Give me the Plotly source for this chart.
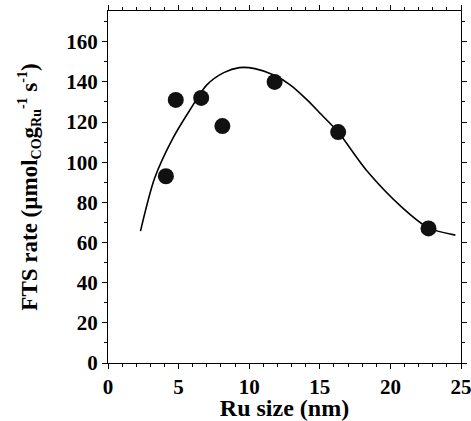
import plotly.graph_objects as go

# Data points (Ru size nm, FTS rate)
size_pts = [4.1, 4.8, 6.6, 8.1, 11.8, 16.3, 22.7]
rate_pts = [93, 131, 132, 118, 140, 115, 67]

# Fitted curve
size_fit = [2.3, 3.3, 4.6, 5.8, 7.0, 8.2, 9.3, 10.4, 11.7, 12.9, 14.1, 15.0, 16.3, 18.3, 20.9, 22.7, 24.6]
rate_fit = [65.7, 92, 112, 126, 138.5, 144.6, 147.1, 146.6, 143.5, 138.5, 131, 124.5, 115, 96, 77, 67.3, 63.7]

FONT = "Liberation Serif"

fig = go.Figure()
fig.add_trace(go.Scatter(x=size_fit, y=rate_fit, mode="lines",
                         line=dict(color="black", width=1.6, shape="spline", smoothing=0.8),
                         showlegend=False))
fig.add_trace(go.Scatter(x=size_pts, y=rate_pts, mode="markers",
                         marker=dict(color="#111111", size=16),
                         showlegend=False))

axis_common = dict(showline=True, linecolor="black", linewidth=1.2, mirror="allticks",
                   ticks="outside", tickcolor="black", ticklen=5, tickwidth=1.2,
                   showgrid=False, zeroline=False, automargin=False,
                   ticklabeloverflow="allow",
                   tickfont=dict(family=FONT, size=21, color="black", weight="bold"))

S = '<span style="font-size:14px">'
ytitle = ("FTS rate (µmol<sub>" + S + "CO</span></sub>g<sub>" + S + "Ru</span></sub>"
          "<sup>" + S + "-1</span></sup> s<sup>" + S + "-1</span></sup>)")

fig.update_layout(
    width=471, height=421,
    margin=dict(l=108, r=10, t=11, b=58),
    plot_bgcolor="white", paper_bgcolor="white",
    xaxis=dict(range=[0, 25], dtick=5, tick0=0,
               minor=dict(dtick=1, ticks="outside", ticklen=3, tickcolor="black"),
               title=dict(text="Ru size (nm)", standoff=0,
                          font=dict(family=FONT, size=24, color="black", weight="bold")),
               **axis_common),
    yaxis=dict(range=[0, 175.3], dtick=20, tick0=0,
               minor=dict(dtick=10, ticks="outside", ticklen=3, tickcolor="black"),
               title=dict(text=ytitle, standoff=22,
                          font=dict(family=FONT, size=23, color="black", weight="bold")),
               **axis_common),
)

fig.write_html("out.html")
